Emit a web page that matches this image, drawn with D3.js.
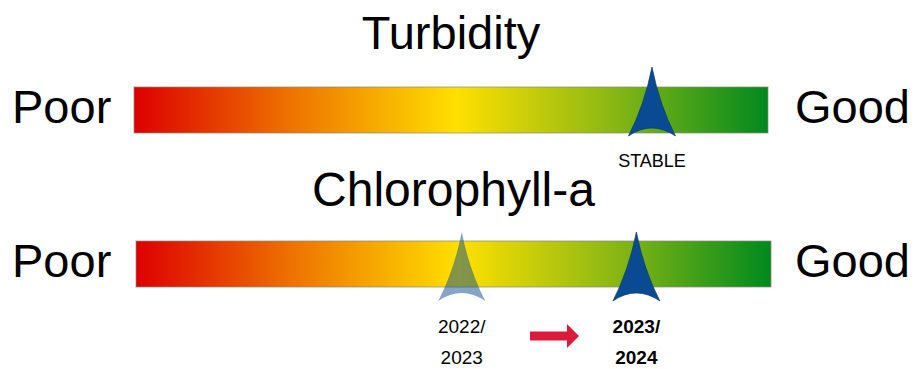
<!DOCTYPE html>
<html>
<head>
<meta charset="utf-8">
<script src="https://cdn.jsdelivr.net/npm/d3@7"></script>
<style>
  html, body { margin: 0; padding: 0; background: #ffffff; }
  svg { display: block; }
  text { font-family: "Liberation Sans", Arial, sans-serif; fill: #000; }
</style>
</head>
<body>
<svg id="chart" width="916" height="369"></svg>
<script>
// Indicator names and end labels
const indicators = ["Turbidity", "Chlorophyll-a"];
const endLabels = ["Poor", "Good"];

// Marker positions on a 0 (poor) .. 1 (good) scale
const turbidityMarkers = [
  { value: 0.817, label: ["STABLE"], current: true }
];
const chlorophyllMarkers = [
  { value: 0.513, label: ["2022/", "2023"], current: false },
  { value: 0.788, label: ["2023/", "2024"], current: true }
];

// Colour ramp from poor to good
const rampOffsets = [0, 0.25, 0.51, 0.75, 1];
const rampColors = ["#dd0000", "#ee7400", "#ffe000", "#8cb814", "#00891e"];

const svg = d3.select("#chart");
const defs = svg.append("defs");
const grad = defs.append("linearGradient")
  .attr("id", "ramp").attr("x1", "0%").attr("x2", "100%").attr("y1", "0%").attr("y2", "0%");
grad.selectAll("stop").data(rampOffsets).join("stop")
  .attr("offset", d => d)
  .attr("stop-color", (d, i) => rampColors[i]);

const panels = [
  { name: indicators[0], markers: turbidityMarkers, x0: 134, x1: 768, barTop: 87, barH: 46, titleY: 49, labelY: 123,
    markerTop: 67, markerBottom: 136, textY: 167, lineGap: 31, titleSize: 47, textSize: 18 },
  { name: indicators[1], markers: chlorophyllMarkers, x0: 136, x1: 771, barTop: 241, barH: 46, titleY: 206, labelY: 277,
    markerTop: 232, markerBottom: 301, textY: 333, lineGap: 31, titleSize: 48, textSize: 19 }
];

// Arrowhead-shaped pointer with a concave base, apex at (0, -h)
function pointerPath(w, h, dip) {
  const p = d3.path();
  p.moveTo(0, -h);
  p.quadraticCurveTo(-w * 0.16, -h * 0.45, -w / 2, 0);
  p.quadraticCurveTo(0, -dip * 2, w / 2, 0);
  p.quadraticCurveTo(w * 0.16, -h * 0.45, 0, -h);
  p.closePath();
  return p.toString();
}

panels.forEach(pn => {
  const x = d3.scaleLinear().domain([0, 1]).range([pn.x0, pn.x1]);
  const g = svg.append("g");

  g.append("text")
    .attr("x", (pn.x0 + pn.x1) / 2).attr("y", pn.titleY)
    .attr("text-anchor", "middle").style("font-size", pn.titleSize + "px")
    .text(pn.name);

  g.append("text").attr("x", 12).attr("y", pn.labelY)
    .style("font-size", "47px").text(endLabels[0]);
  g.append("text").attr("x", 795).attr("y", pn.labelY)
    .style("font-size", "47px").text(endLabels[1]);

  g.append("rect")
    .attr("x", x(0)).attr("y", pn.barTop)
    .attr("width", x(1) - x(0)).attr("height", pn.barH)
    .attr("fill", "url(#ramp)")
    .attr("stroke", "#8a8a7a").attr("stroke-opacity", 0.7).attr("stroke-width", 1);

  const h = pn.markerBottom - pn.markerTop;
  const mk = g.selectAll("g.marker").data(pn.markers).join("g")
    .attr("class", "marker")
    .attr("transform", d => `translate(${x(d.value)},${pn.markerBottom})`);

  mk.append("path")
    .attr("d", pointerPath(47, h, 8))
    .attr("fill", "#0a4a92")
    .attr("fill-opacity", d => d.current ? 1 : 0.5)
    .attr("stroke", "#06346a")
    .attr("stroke-opacity", d => d.current ? 0.8 : 0)
    .attr("stroke-width", 0.8);

  mk.each(function(d) {
    const t = d3.select(this);
    d.label.forEach((line, i) => {
      t.append("text")
        .attr("x", 0)
        .attr("y", pn.textY - pn.markerBottom + i * pn.lineGap)
        .attr("text-anchor", "middle")
        .style("font-size", pn.textSize + "px")
        .style("font-weight", d.current && d.label.length > 1 ? "bold" : "normal")
        .text(line);
    });
  });

  // Direction-of-change arrow between consecutive markers
  if (pn.markers.length > 1) {
    const ax0 = 530, ax1 = 579, ay = 336;
    const arrow = d3.path();
    arrow.moveTo(ax0, ay - 4.5);
    arrow.lineTo(ax1 - 12, ay - 4.5);
    arrow.lineTo(ax1 - 12, ay - 12);
    arrow.lineTo(ax1, ay);
    arrow.lineTo(ax1 - 12, ay + 12);
    arrow.lineTo(ax1 - 12, ay + 4.5);
    arrow.lineTo(ax0, ay + 4.5);
    arrow.closePath();
    g.append("path").attr("d", arrow.toString()).attr("fill", "#dc1a3c");
  }
});
</script>
</body>
</html>
